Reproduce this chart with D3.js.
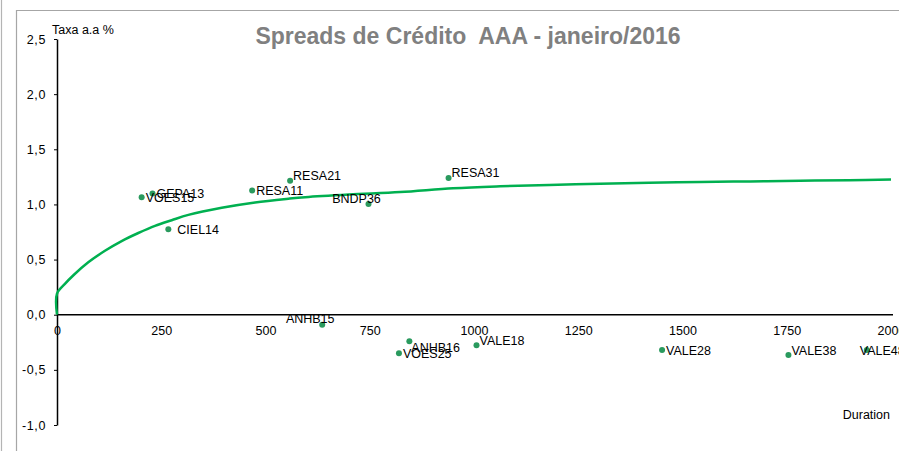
<!DOCTYPE html>
<html>
<head>
<meta charset="utf-8">
<script src="https://cdn.jsdelivr.net/npm/d3@7"></script>
<style>
  body { margin: 0; background: #fff; }
  text { font-family: "Liberation Sans", Arial, sans-serif; }
</style>
</head>
<body>
<div id="chart"></div>
<script>
var w = 899, h = 451;

// papers (duration in days, spread % a.a.)
var papers = ["VOES15", "GEPA13", "CIEL14", "RESA11", "RESA21", "BNDP36", "RESA31",
  "ANHB15", "ANHB16", "VOES25", "VALE18", "VALE28", "VALE38", "VALE48"];
var duration = [203, 229, 267, 468, 559, 747, 939, 636, 845, 820, 1006, 1451, 1754, 1942];
var taxa = [1.064, 1.10, 0.776, 1.127, 1.215, 1.003, 1.24, -0.09, -0.24, -0.35, -0.276, -0.32, -0.366, -0.32];
var labelPlace = ["right", "right", "right", "right", "upright", "above", "upright",
  "above", "downright", "right", "upright", "right", "upright", "over"];

// fitted curve
var curveDur = [0, 0, 19, 40, 75, 115, 155, 195, 235, 275, 315, 395, 475, 555, 595, 700, 823, 950,
  1063, 1180, 1302, 1420, 1542, 1662, 1782, 1900, 2000];
var curveTaxa = [0, 0.19, 0.279, 0.36, 0.475, 0.58, 0.668, 0.741, 0.806, 0.857, 0.905, 0.97, 1.018,
  1.052, 1.066, 1.09, 1.112, 1.146, 1.164, 1.177, 1.188, 1.196, 1.203, 1.209, 1.215, 1.22, 1.225];

var xTicks = [0, 250, 500, 750, 1000, 1250, 1500, 1750, 2000];
var yTicks = [-1, -0.5, 0, 0.5, 1, 1.5, 2, 2.5];

var svg = d3.select('#chart').append('svg')
  .attr('width', w)
  .attr('height', h);

// frame lines
svg.append('line').attr('x1', 1.5).attr('y1', 0).attr('x2', 1.5).attr('y2', h)
  .attr('stroke', '#b4b4b4').attr('stroke-width', 1.2);
svg.append('line').attr('x1', 16.5).attr('y1', 10).attr('x2', 16.5).attr('y2', h)
  .attr('stroke', '#a6a6a6').attr('stroke-width', 1.2);
svg.append('line').attr('x1', 16).attr('y1', 10.5).attr('x2', w).attr('y2', 10.5)
  .attr('stroke', '#a6a6a6').attr('stroke-width', 1.2);

var x = d3.scaleLinear().domain([0, 2000]).range([57, 891]);
var y = d3.scaleLinear().domain([-1, 2.5]).range([425, 39]);

var fmt = function(d) { return d3.format('.1f')(d).replace('.', ',').replace('−', '-'); };

// y axis
var yAxis = svg.append('g')
  .attr('transform', 'translate(' + x(0) + ',0)')
  .call(d3.axisLeft(y).tickValues(yTicks).tickFormat(fmt).tickSize(3).tickSizeOuter(0).tickPadding(8));
yAxis.selectAll('text').attr('font-size', 12.5).attr('fill', '#000').attr('letter-spacing', 0.6);
yAxis.select('.domain').attr('stroke', '#000').attr('stroke-width', 1.5);

// x axis at zero
var xAxis = svg.append('g')
  .attr('transform', 'translate(0,' + y(0) + ')')
  .call(d3.axisBottom(x).tickValues(xTicks).tickFormat(d3.format('d')).tickSize(0).tickPadding(11));
xAxis.selectAll('text').attr('font-size', 12.5).attr('fill', '#000');
xAxis.select('.domain').attr('d', 'M' + x(0) + ',0H' + (x(2000) + 2))
  .attr('stroke', '#000').attr('stroke-width', 1.5);

// curve
var pts = curveDur.map(function(d, i) { return [d, curveTaxa[i]]; });
var line = d3.line()
  .x(function(d) { return x(d[0]); })
  .y(function(d) { return y(d[1]); })
  .curve(d3.curveCatmullRom.alpha(0.5));

svg.append('path')
  .attr('d', line(pts))
  .attr('fill', 'none')
  .attr('stroke', '#00b050')
  .attr('stroke-width', 2.5);

// points
svg.selectAll('circle.pt')
  .data(papers)
  .enter().append('circle')
  .attr('class', 'pt')
  .attr('cx', function(d, i) { return x(duration[i]); })
  .attr('cy', function(d, i) { return y(taxa[i]); })
  .attr('r', 3)
  .attr('fill', '#2a9a5e');

var place = {
  right: { dx: 4, dy: 0, anchor: 'start' },
  upright: { dx: 3, dy: -5, anchor: 'start' },
  downright: { dx: 2, dy: 6, anchor: 'start' },
  above: { dx: -12, dy: -6, anchor: 'middle' },
  over: { dx: -7, dy: 0, anchor: 'start' }
};

svg.selectAll('text.lbl')
  .data(papers)
  .enter().append('text')
  .attr('class', 'lbl')
  .attr('x', function(d, i) { return x(duration[i]) + place[labelPlace[i]].dx + (d == 'CIEL14' ? 5 : 0); })
  .attr('y', function(d, i) { return y(taxa[i]) + place[labelPlace[i]].dy + 4.5; })
  .attr('text-anchor', function(d, i) { return place[labelPlace[i]].anchor; })
  .attr('font-size', 12.5)
  .attr('fill', '#000')
  .text(function(d) { return d; });

// titles
svg.append('text')
  .attr('x', 468).attr('y', 44)
  .attr('text-anchor', 'middle')
  .attr('font-size', 23)
  .attr('font-weight', 'bold')
  .attr('fill', '#808080')
  .style('white-space', 'pre')
  .text('Spreads de Crédito  AAA - janeiro/2016');

svg.append('text')
  .attr('x', 52).attr('y', 34)
  .attr('font-size', 12.5)
  .text('Taxa a.a %');

svg.append('text')
  .attr('x', 890).attr('y', 419)
  .attr('text-anchor', 'end')
  .attr('font-size', 12.5)
  .text('Duration');
</script>
</body>
</html>
